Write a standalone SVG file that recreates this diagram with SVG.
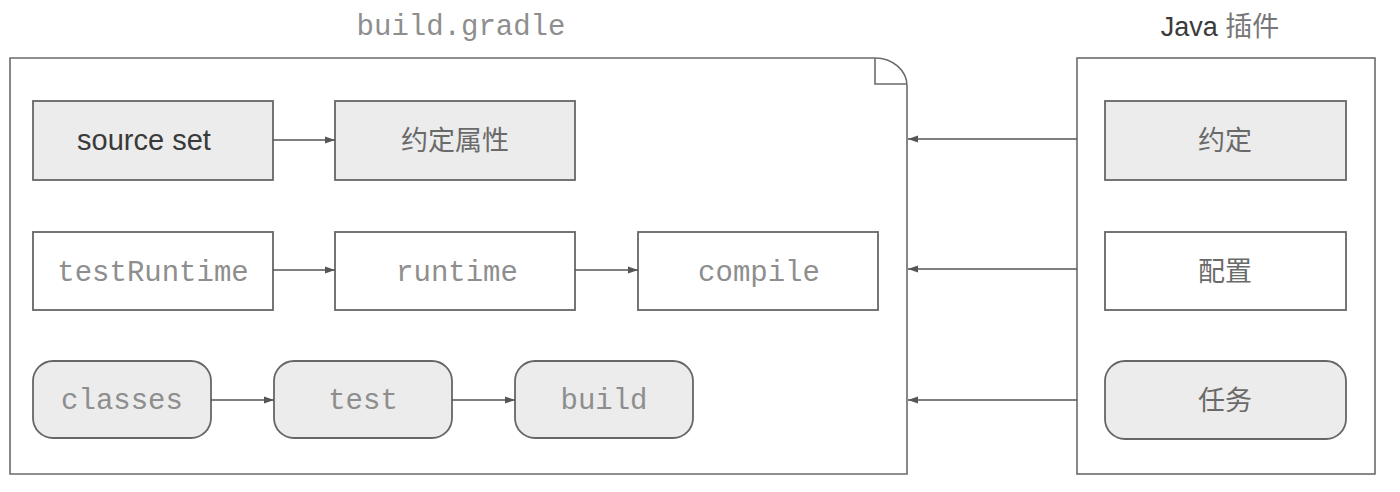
<svg xmlns="http://www.w3.org/2000/svg" width="1400" height="492" viewBox="0 0 1400 492">
<style>
.frame{fill:#fff;stroke:#6b6b6b;stroke-width:1.6}
.box{fill:#fff;stroke:#666;stroke-width:1.8}
.gray{fill:#ececec;stroke:#666;stroke-width:1.8}
.conn{stroke:#555;stroke-width:1.6;fill:none;marker-end:url(#ah)}
.mono{font-family:"Liberation Mono","Courier New",monospace;font-size:29px;fill:#8e8e8e;text-anchor:middle}
.sans{font-family:"Liberation Sans",Arial,sans-serif;font-size:29px;fill:#3a3a3a;text-anchor:middle}
.cjk{font-family:"Liberation Sans","Noto Sans CJK SC",sans-serif;font-size:27px;fill:#6a6a6a;text-anchor:middle}
</style>
<defs>
<marker id="ah" markerUnits="userSpaceOnUse" markerWidth="11" markerHeight="8" refX="10" refY="4" orient="auto">
<path d="M0,0.5 L10,4 L0,7.5 z" fill="#555"/>
</marker>
</defs>
<rect width="1400" height="492" fill="#fff"/>

<g id="build-gradle">
<text class="mono" x="461" y="35">build.gradle</text>
<path class="frame" d="M10,58 H875 A32,28 0 0 1 907,86 V474 H10 Z"/>
<path class="frame" d="M875,58 V84 H906"/>
</g>

<g id="java-plugin">
<text class="sans" x="1220" y="36" style="font-size:27px"><tspan>Java </tspan><tspan style="fill:#777;font-family:'Noto Sans CJK SC',sans-serif">插件</tspan></text>
<rect class="frame" x="1077" y="58" width="298" height="416"/>
</g>

<g id="n-sourceset"><rect class="gray" x="33" y="101" width="240" height="79"/><text class="sans" x="144" y="150">source set</text></g>
<g id="n-conv-props"><rect class="gray" x="335" y="101" width="240" height="79"/><text class="cjk" x="455" y="150">约定属性</text></g>
<g id="n-testRuntime"><rect class="box" x="33" y="232" width="240" height="78"/><text class="mono" x="153" y="281">testRuntime</text></g>
<g id="n-runtime"><rect class="box" x="335" y="232" width="240" height="78"/><text class="mono" x="457" y="281">runtime</text></g>
<g id="n-compile"><rect class="box" x="638" y="232" width="240" height="78"/><text class="mono" x="759" y="281">compile</text></g>
<g id="n-classes"><rect class="gray" x="33" y="361" width="178" height="77" rx="20"/><text class="mono" x="122" y="409">classes</text></g>
<g id="n-test"><rect class="gray" x="274" y="361" width="178" height="77" rx="20"/><text class="mono" x="363" y="409">test</text></g>
<g id="n-build"><rect class="gray" x="515" y="361" width="178" height="77" rx="20"/><text class="mono" x="604" y="409">build</text></g>
<g id="n-conv"><rect class="gray" x="1105" y="101" width="241" height="79"/><text class="cjk" x="1225" y="150">约定</text></g>
<g id="n-config"><rect class="box" x="1105" y="232" width="241" height="78"/><text class="cjk" x="1225" y="281">配置</text></g>
<g id="n-tasks"><rect class="gray" x="1105" y="361" width="241" height="78" rx="20"/><text class="cjk" x="1225" y="410">任务</text></g>

<g id="connectors">
<line class="conn" x1="273" y1="140" x2="335" y2="140"/>
<line class="conn" x1="273" y1="270" x2="335" y2="270"/>
<line class="conn" x1="575" y1="270" x2="638" y2="270"/>
<line class="conn" x1="211" y1="400" x2="274" y2="400"/>
<line class="conn" x1="452" y1="400" x2="515" y2="400"/>
<line class="conn" x1="1077" y1="139" x2="908" y2="139"/>
<line class="conn" x1="1077" y1="269" x2="908" y2="269"/>
<line class="conn" x1="1077" y1="400" x2="908" y2="400"/>
</g>
</svg>
